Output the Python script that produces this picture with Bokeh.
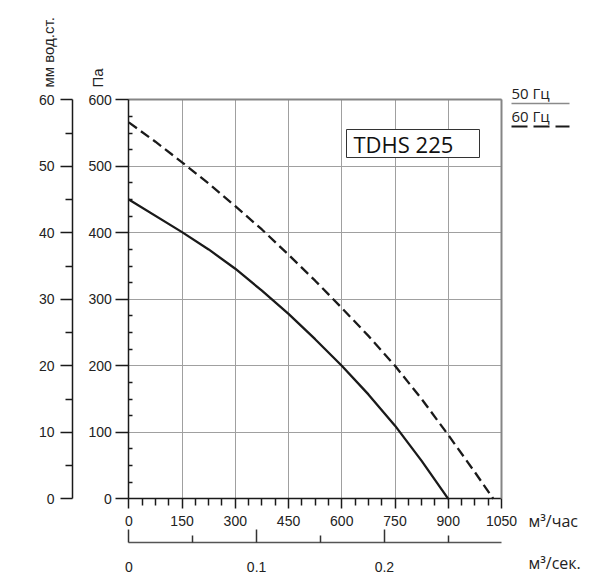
import math
from bokeh.plotting import figure
from bokeh.models import Range1d, LinearAxis, FixedTicker, Label, BoxAnnotation, Arrow, Grid
from bokeh.embed import file_html
from bokeh.resources import INLINE

# ---- data ----
flow_50 = [0, 150, 225, 300, 375, 450, 525, 600, 675, 750, 825, 900]
pa_50 = [450, 401, 375, 346, 313, 278, 240, 200, 157, 110, 57, 0]

flow_60 = [0, 75, 150, 225, 300, 375, 450, 525, 600, 675, 750, 825, 900, 975, 1027]
pa_60 = [566, 537, 506, 474, 440, 405, 367, 328, 287, 245, 200, 150, 96, 40, 0]

flow_ticks = [0, 150, 300, 450, 600, 750, 900, 1050]
pa_ticks = [0, 100, 200, 300, 400, 500, 600]
mm_ticks = [0, 10, 20, 30, 40, 50, 60]
s_ticks = [0, 0.1, 0.2]
s_labels = ["0", "0.1", "0.2"]
s_minor = [0.05, 0.15, 0.25]

FLOW_MAX = 1050
PA_MAX = 600
PA_PER_MM = 10
M3H_PER_M3S = 3600

flow_minor = [a + k * 37.5 for a in flow_ticks[:-1] for k in (1, 2, 3)]
pa_minor = [a + k * 25 for a in pa_ticks[:-1] for k in (1, 2, 3)]
mm_minor = [a + 5 for a in mm_ticks[:-1]]

# ---- layout (canvas pixels) ----
W, H = 590, 579
X0, X1 = 128.3, 501.0      # pixel of flow 0 / flow 1050
Y0, Y1 = 498.3, 99.3       # pixel of 0 Pa / 600 Pa
KX = (X1 - X0) / FLOW_MAX
KY = (Y0 - Y1) / PA_MAX


def ux(px):
    return (px - X0) / KX


def uy(py):
    return (Y0 - py) / KY


TICK_FONT = "Liberation Sans"
INK = "#1a1a1a"
BORDER = "#858585"

p = figure(width=W, height=H,
           x_range=Range1d(ux(0), ux(W)), y_range=Range1d(uy(H), uy(0)),
           x_axis_type=None, y_axis_type=None,
           output_backend="svg", toolbar_location=None, min_border=0)
p.extra_y_ranges = {"mm": Range1d(uy(H) / PA_PER_MM, uy(0) / PA_PER_MM)}
p.extra_x_ranges = {"s": Range1d(ux(0) / M3H_PER_M3S, ux(W) / M3H_PER_M3S)}
p.background_fill_color = "white"
p.border_fill_color = "white"
p.outline_line_color = None

# grid (limited to the chart area)
p.add_layout(Grid(dimension=0, ticker=FixedTicker(ticks=flow_ticks),
                  bounds=(0, FLOW_MAX), cross_bounds=(0, PA_MAX),
                  grid_line_color="#a0a0a0", grid_line_width=1))
p.add_layout(Grid(dimension=1, ticker=FixedTicker(ticks=pa_ticks),
                  bounds=(0, PA_MAX), cross_bounds=(0, FLOW_MAX),
                  grid_line_color="#a0a0a0", grid_line_width=1))


def style(ax):
    ax.axis_line_color = INK
    ax.axis_line_width = 1.5
    ax.major_tick_line_color = INK
    ax.minor_tick_line_color = INK
    ax.major_tick_line_width = 1.5
    ax.minor_tick_line_width = 1.5
    ax.major_label_text_font = TICK_FONT
    ax.major_label_text_font_size = "14px"
    ax.major_label_text_color = "#222222"


# chart border on top and right
top = LinearAxis(fixed_location=PA_MAX, bounds=(0, FLOW_MAX),
                 ticker=FixedTicker(ticks=[], minor_ticks=[]))
top.axis_line_color = BORDER
top.axis_line_width = 2
top.major_label_text_alpha = 0
p.add_layout(top, "above")
right = LinearAxis(fixed_location=FLOW_MAX, bounds=(0, PA_MAX),
                   ticker=FixedTicker(ticks=[], minor_ticks=[]))
right.axis_line_color = BORDER
right.axis_line_width = 2
right.major_label_text_alpha = 0
p.add_layout(right, "right")

# Pa axis
ya = LinearAxis(fixed_location=0, bounds=(0, PA_MAX),
                ticker=FixedTicker(ticks=pa_ticks, minor_ticks=pa_minor))
style(ya)
ya.major_tick_out = 13
ya.major_tick_in = 0
ya.minor_tick_in = 4
ya.minor_tick_out = 0
ya.major_label_standoff = 4
p.add_layout(ya, "left")

# mm axis
mm = LinearAxis(y_range_name="mm", fixed_location=ux(72), bounds=(0, PA_MAX / PA_PER_MM),
                ticker=FixedTicker(ticks=mm_ticks, minor_ticks=mm_minor))
style(mm)
mm.major_tick_out = 12
mm.major_tick_in = 0
mm.minor_tick_out = 7
mm.minor_tick_in = 0
mm.major_label_standoff = 6
p.add_layout(mm, "left")

# m3/h axis
xa = LinearAxis(fixed_location=0, bounds=(0, FLOW_MAX),
                ticker=FixedTicker(ticks=flow_ticks, minor_ticks=flow_minor))
style(xa)
xa.major_tick_out = 10
xa.major_tick_in = 0
xa.minor_tick_out = 7
xa.minor_tick_in = 0
xa.major_label_standoff = 7
p.add_layout(xa, "below")

# m3/s axis
sa = LinearAxis(x_range_name="s", fixed_location=uy(542), bounds=(0, FLOW_MAX / M3H_PER_M3S),
                ticker=FixedTicker(ticks=s_ticks, minor_ticks=s_minor))
style(sa)
sa.axis_line_color = "#555555"
sa.major_tick_line_color = "#333333"
sa.minor_tick_line_color = "#333333"
sa.major_tick_in = 13
sa.major_tick_out = 0
sa.minor_tick_in = 7
sa.minor_tick_out = 0
sa.major_label_standoff = 19
sa.major_label_overrides = {t: l for t, l in zip(s_ticks, s_labels)}
p.add_layout(sa, "below")

# curves
p.line(flow_50, pa_50, line_color=INK, line_width=2.3, line_join="round")
p.line(flow_60, pa_60, line_color=INK, line_width=2.3, line_dash="10 5")

# model box
p.add_layout(BoxAnnotation(left=ux(346), right=ux(479), top=uy(129), bottom=uy(157),
                           fill_color="white", fill_alpha=1.0,
                           line_color="#333333", line_alpha=1.0, line_width=1))
p.add_layout(Label(x=ux(353), y=uy(143.5), text="TDHS 225", text_font="Open Sans",
                   text_font_size="22px", text_color="#111111",
                   text_baseline="middle", text_align="left"))

# axis titles
lab_kw = dict(text_font=TICK_FONT, text_font_size="15px", text_color="#222222",
              angle=math.pi / 2, text_align="left", text_baseline="middle")
p.add_layout(Label(x=ux(48), y=uy(87), text="мм вод.ст.", **lab_kw))
p.add_layout(Label(x=ux(96.5), y=uy(87), text="Па", **lab_kw))
unit_kw = dict(text_font="Open Sans", text_font_size="16px", text_color="#222222",
               text_align="left", text_baseline="middle")
p.add_layout(Label(x=ux(528), y=uy(520.5), text="м³/час", **unit_kw))
p.add_layout(Label(x=ux(528), y=uy(562), text="м³/сек.", **unit_kw))

# legend
leg_kw = dict(text_font="Open Sans", text_font_size="15px", text_color="#222222",
              text_align="left", text_baseline="middle")
p.add_layout(Label(x=ux(511), y=uy(92), text="50 Гц", **leg_kw))
p.add_layout(Label(x=ux(511), y=uy(115), text="60 Гц", **leg_kw))
p.add_layout(Arrow(start=None, end=None, x_start=ux(511), y_start=uy(103),
                   x_end=ux(569), y_end=uy(103), line_color="#8a8a8a", line_width=1.5))
p.add_layout(Arrow(start=None, end=None, x_start=ux(511), y_start=uy(126),
                   x_end=ux(569), y_end=uy(126), line_color=INK, line_width=2,
                   line_dash="16 6"))

open("out.html", "w").write(file_html(p, INLINE))
